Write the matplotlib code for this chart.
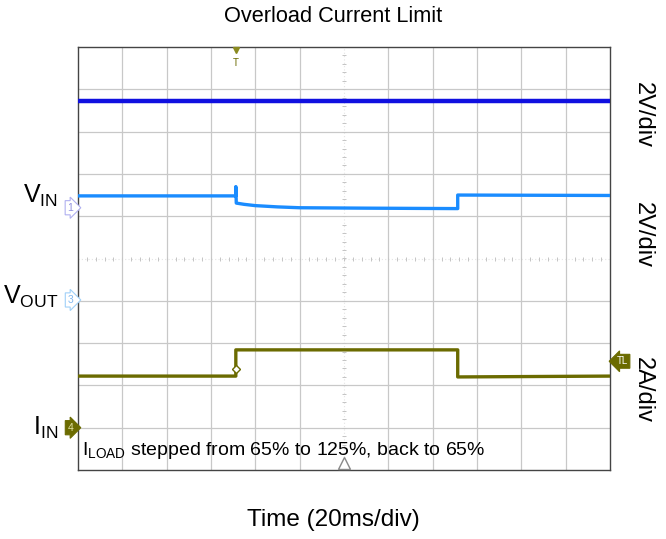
import matplotlib.pyplot as plt
import numpy as np

plt.rcParams['font.family'] = ['Liberation Sans', 'DejaVu Sans']

# time in ms (20 ms/div, 12 div), levels in divisions (-5..5)
t_top = [0, 240]
v_top = [3.72, 3.72]

t_vin = [0, 71.2, 71.2, 71.4, 75, 80, 90, 100, 130, 170, 171.3, 171.3, 240]
v_vin = [1.48, 1.48, 1.70, 1.31, 1.28, 1.25, 1.22, 1.20, 1.19, 1.18, 1.18, 1.50, 1.49]

t_iin = [0, 71.2, 71.2, 171.3, 171.3, 240]
v_iin = [-2.78, -2.78, -2.16, -2.16, -2.80, -2.78]

left_labels = [('V', 'IN', 1.48), ('V', 'OUT', -0.9), ('I', 'IN', -4.0)]
right_labels = [('2V/div', 3.4), ('2V/div', 0.55), ('2A/div', -3.1)]

fig = plt.figure(figsize=(6.66, 5.39), dpi=100)
ax = fig.add_axes([78/666, 69/539, 532/666, 423/539])
ax.set_xlim(0, 240)
ax.set_ylim(-5, 5)

# graticule
for x in np.arange(20, 240, 20):
    if x != 120:
        ax.axvline(x, color='#c8c8c8', lw=0.9, zorder=0)
for y in np.arange(-4, 5, 1):
    if y != 0:
        ax.axhline(y, color='#c8c8c8', lw=0.9, zorder=0)
ax.axvline(120, color='#e4e4e4', lw=0.8, ls=(0, (1, 2)), zorder=0)
ax.axhline(0, color='#e4e4e4', lw=0.8, ls=(0, (1, 2)), zorder=0)
ax.plot([120]*49, np.arange(-4.8, 5, 0.2), '_', color='#c4c4c4', ms=3, mew=0.7, zorder=0)
ax.plot(np.arange(4, 240, 4), [0]*59, '|', color='#c4c4c4', ms=3, mew=0.7, zorder=0)
ax.set_xticks([])
ax.set_yticks([])
for s in ax.spines.values():
    s.set_color('#444444')
    s.set_linewidth(1.0)

ax.plot(t_top, v_top, color='#1010e0', lw=3.2, zorder=3)
ax.plot(t_vin, v_vin, color='#1a8cff', lw=2.4, zorder=3)
ax.plot(t_iin, v_iin, color='#6b6b00', lw=2.4, zorder=3)
ax.plot([71.2], [-2.62], 'D', ms=4, mfc='white', mec='#6b6b00', mew=1, zorder=4)

# trigger markers
ax.plot([71.2], [4.92], 'v', ms=5, color='#8a8a20', clip_on=False, zorder=5)
ax.text(71.2, 4.62, 'T', ha='center', va='center', fontsize=7, color='#6b6b00')
ax.plot([120], [-4.84], '^', ms=9, mfc='white', mec='#888888', mew=1, clip_on=False, zorder=5)

ax.text(2, -4.55, r'I$_{\mathregular{LOAD}}$ stepped from 65% to 125%, back to 65%',
        fontsize=14, va='center', ha='left')

# channel tags
ax.text(-2.2, 1.2, '1', fontsize=7.5, color='#9090e0', ha='right', va='center',
        bbox=dict(boxstyle='rarrow,pad=0.2', fc='white', ec='#b0b0f0', lw=0.8), clip_on=False)
ax.text(-2.2, -0.98, '3', fontsize=7.5, color='#80b8f0', ha='right', va='center',
        bbox=dict(boxstyle='rarrow,pad=0.2', fc='white', ec='#a0d0f8', lw=0.8), clip_on=False)
ax.text(-2.2, -4.0, '4', fontsize=7.5, color='#e0e0a0', ha='right', va='center',
        bbox=dict(boxstyle='rarrow,pad=0.2', fc='#6b6b00', ec='#6b6b00', lw=0.8), clip_on=False)
ax.text(243.0, -2.43, 'TL', fontsize=7, color='white', ha='left', va='center',
        bbox=dict(boxstyle='larrow,pad=0.2', fc='#6b6b00', ec='#6b6b00', lw=0.8), clip_on=False)

for main, sub, y in left_labels:
    ax.text(-9, y, main + r'$_{\mathregular{' + sub + '}}$', fontsize=18,
            ha='right', va='center', clip_on=False)

for txt, y in right_labels:
    ax.text(255, y, txt, fontsize=17, rotation=-90, ha='center', va='center', clip_on=False)

fig.text(0.5, 1 - 17/539, 'Overload Current Limit', fontsize=15.7, ha='center', va='center')
fig.text(0.5, 1 - 520/539, 'Time (20ms/div)', fontsize=17.5, ha='center', va='center')

fig.savefig('out.png', dpi=100)
